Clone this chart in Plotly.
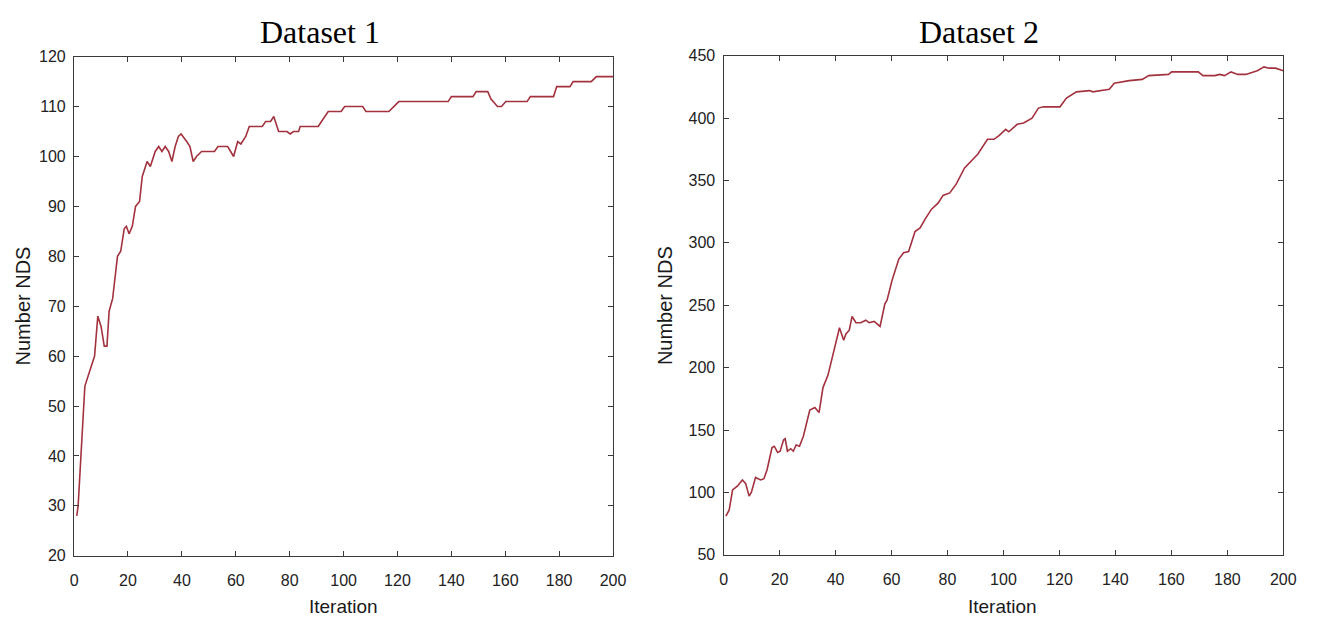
import plotly.graph_objects as go

# Dataset 1: number of non-dominated solutions per iteration
iter1 = [1, 1.5, 4, 7.6, 8.8, 10, 11.2, 12.2, 13, 14.3, 16.1, 17.3, 18.6, 19.4, 20.4,
         21.6, 22.8, 24.3, 25.3, 27.1, 28.3, 30.1, 31.4, 32.6, 33.8, 35.1, 36.3, 37.5,
         38.7, 39.7, 41.8, 43, 44.2, 45.4, 47.3, 52.1, 53.4, 57, 59.2, 60.7, 61.9, 63.7,
         65, 69.8, 71.1, 72.9, 74.1, 75.9, 79, 80.2, 81.4, 83.3, 83.9, 90.6, 91.8, 94.3,
         99.1, 100.4, 107.1, 108.3, 116.8, 118.7, 120.5, 138.8, 140, 148, 149.2, 153.5,
         154.7, 157.1, 158.6, 160.2, 168.1, 169.3, 177.9, 179.1, 184, 185.2, 191.9, 193.8, 200]
nds1 = [28, 30, 54, 60, 68, 66, 62, 62, 69, 71.5, 80, 81, 85.5, 86, 84.5,
        86, 90, 91, 96, 99, 98, 101, 102, 101, 102, 101, 99, 102,
        104, 104.5, 103, 102, 99, 100, 101, 101, 102, 102, 100, 103, 102.5, 104,
        106, 106, 107, 107, 108, 105, 105, 104.5, 105, 105, 106, 106, 107, 109,
        109, 110, 110, 109, 109, 110, 111, 111, 112, 112, 113, 113,
        111.5, 110, 110, 111, 111, 112, 112, 114, 114, 115, 115, 116, 116]

# Dataset 2
iter2 = [0.8, 2, 3.2, 4.9, 6.7, 7.9, 9.1, 9.9, 11.4, 13.2, 14.4, 15.5, 17.3, 18.1, 19.3,
         20.2, 21.4, 22, 22.8, 24, 24.9, 25.9, 27.1, 28.5, 30.8, 32.6, 34.1, 35.5, 37.3,
         39, 40.2, 41.4, 42.9, 43.7, 44.9, 45.9, 47.3, 49, 50.8, 52, 53.8, 55.9, 57.6,
         58.4, 60.2, 62.6, 64.3, 66.1, 68.4, 70.2, 72, 74.3, 76.7, 78.4, 80.8, 83.1, 86.1,
         88.4, 90.8, 94.3, 96.6, 98.4, 100.8, 101.9, 104.9, 107.2, 110.2, 112.5, 114.3,
         120.2, 122.5, 126.1, 130.8, 131.9, 137.8, 139.6, 144.9, 149.6, 151.9, 159, 160.1,
         169.6, 171.3, 175.5, 177.2, 179, 181.3, 183.7, 186.6, 190.7, 193.1, 194.9, 197.2, 200]
nds2 = [81, 86, 102, 105, 110, 107, 97, 100, 112, 110, 111, 118, 136, 137, 132,
        133, 142, 143, 133, 135, 133, 138, 137, 145, 166, 168, 164, 184, 194,
        210, 219, 232, 222, 227, 230, 241, 236, 236, 238, 236, 237, 233, 251,
        254, 270, 287, 292, 293, 309, 312, 319, 327, 332, 338, 340, 347, 360,
        365, 371, 383, 383, 386, 391, 389, 395, 396, 400, 408, 409,
        409, 416, 421, 422, 421, 423, 428, 430, 431, 434, 435, 437,
        437, 434, 434, 435, 434, 437, 435, 435, 438, 441, 440, 440, 438]

titles = ["Dataset 1", "Dataset 2"]
x_label = "Iteration"
y_label = "Number NDS"

W, H = 1321, 628
LINE = "#a3323f"
AXIS = "#3a3a3a"
TICKFONT = dict(family="Arial, Liberation Sans", size=16, color="#222222")


def px_x(p):
    """Pixel column -> paper x."""
    return p / W


def px_y(p):
    """Pixel row -> paper y."""
    return 1 - p / H


fig = go.Figure()
fig.add_trace(go.Scatter(x=iter1, y=nds1, mode="lines",
                         line=dict(color=LINE, width=1.6), xaxis="x", yaxis="y",
                         showlegend=False))
fig.add_trace(go.Scatter(x=iter2, y=nds2, mode="lines",
                         line=dict(color=LINE, width=1.6), xaxis="x2", yaxis="y2",
                         showlegend=False))

common = dict(showline=True, linecolor=AXIS, linewidth=1.3, mirror="ticks",
              ticks="inside", ticklen=5, tickwidth=1, tickcolor=AXIS,
              showgrid=False, zeroline=False, tickfont=TICKFONT)

fig.update_layout(
    width=W, height=H,
    margin=dict(l=0, r=0, t=0, b=0),
    paper_bgcolor="white", plot_bgcolor="white",
    xaxis=dict(domain=[px_x(71), px_x(617)], range=[0, 200], dtick=20, anchor="y",
               ticklabelstandoff=10, **common),
    yaxis=dict(domain=[px_y(563), px_y(50)], range=[20, 120], dtick=10, anchor="x",
               ticklabelstandoff=4, **common),
    xaxis2=dict(domain=[px_x(729), px_x(1296)], range=[0, 200], dtick=20, anchor="y2",
                ticklabelstandoff=10, **common),
    yaxis2=dict(domain=[px_y(562), px_y(49)], range=[50, 450], dtick=50, anchor="x2",
                ticklabelstandoff=4, **common),
)

ann = []
for cx, t in zip([320, 988], titles):
    ann.append(dict(text=t, x=px_x(cx), y=px_y(25), xref="paper", yref="paper",
                    showarrow=False, xanchor="center", yanchor="middle",
                    font=dict(family="Times New Roman, Liberation Serif", size=32,
                              color="black")))
for cx in [344, 1012]:
    ann.append(dict(text=x_label, x=px_x(cx), y=px_y(615), xref="paper", yref="paper",
                    showarrow=False, xanchor="center", yanchor="middle",
                    font=dict(family="Arial, Liberation Sans", size=19, color="#1a1a1a")))
for cx in [19, 669]:
    ann.append(dict(text=y_label, x=px_x(cx), y=px_y(306), xref="paper", yref="paper",
                    showarrow=False, xanchor="center", yanchor="middle", textangle=-90,
                    font=dict(family="Arial, Liberation Sans", size=20, color="#1a1a1a")))
fig.update_layout(annotations=ann)

fig.write_html("out.html")
